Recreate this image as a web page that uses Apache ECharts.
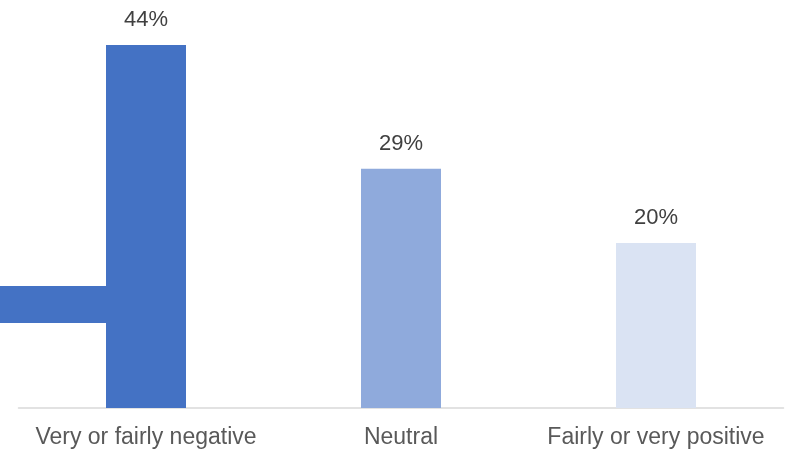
<!DOCTYPE html>
<html>
<head>
<meta charset="utf-8">
<script src="https://cdn.jsdelivr.net/npm/echarts@6/dist/echarts.min.js"></script>
<style>
  html, body { margin: 0; padding: 0; background: #fff; }
  #chart { width: 795px; height: 452px; }
</style>
</head>
<body>
<div id="chart"></div>
<script>
// Share of responses by sentiment (%)
const categories = ['Very or fairly negative', 'Neutral', 'Fairly or very positive'];
const shares = [44, 29, 20];
const barColors = ['#4472C4', '#8FAADC', '#DAE3F3'];

// Horizontal connector band at the left, expressed in axis units
const bandRange = [10.3, 14.8];

const chart = echarts.init(document.getElementById('chart'), null, { renderer: 'canvas' });
const font = '"Liberation Sans", Arial, sans-serif';

chart.setOption({
  animation: false,
  grid: { left: 18.5, right: 11.5, top: 12, bottom: 44, containLabel: false },
  xAxis: {
    type: 'category',
    data: categories,
    axisLine: { lineStyle: { color: '#D9D9D9', width: 1.5 } },
    axisTick: { show: false },
    axisLabel: {
      interval: 0,
      hideOverlap: false,
      color: '#595959',
      fontSize: 23,
      fontFamily: font,
      margin: 18
    }
  },
  yAxis: {
    type: 'value',
    min: 0,
    max: 48,
    show: false,
    splitLine: { show: false }
  },
  series: [{
    type: 'bar',
    barWidth: 80,
    data: shares.map((v, i) => ({ value: v, itemStyle: { color: barColors[i] } })),
    label: {
      show: true,
      position: 'top',
      distance: 14,
      formatter: '{c}%',
      color: '#404040',
      fontSize: 22,
      fontFamily: font
    }
  }]
});

// Band running from the left edge into the first bar
const bandTop = chart.convertToPixel({ gridIndex: 0 }, [0, bandRange[1]]);
const bandBottom = chart.convertToPixel({ gridIndex: 0 }, [0, bandRange[0]]);
const firstBarLeft = bandTop[0] - 40;
chart.setOption({
  graphic: [{
    type: 'rect',
    shape: { x: 0, y: bandTop[1], width: firstBarLeft, height: bandBottom[1] - bandTop[1] },
    style: { fill: barColors[0] },
    silent: true
  }]
});
</script>
</body>
</html>
